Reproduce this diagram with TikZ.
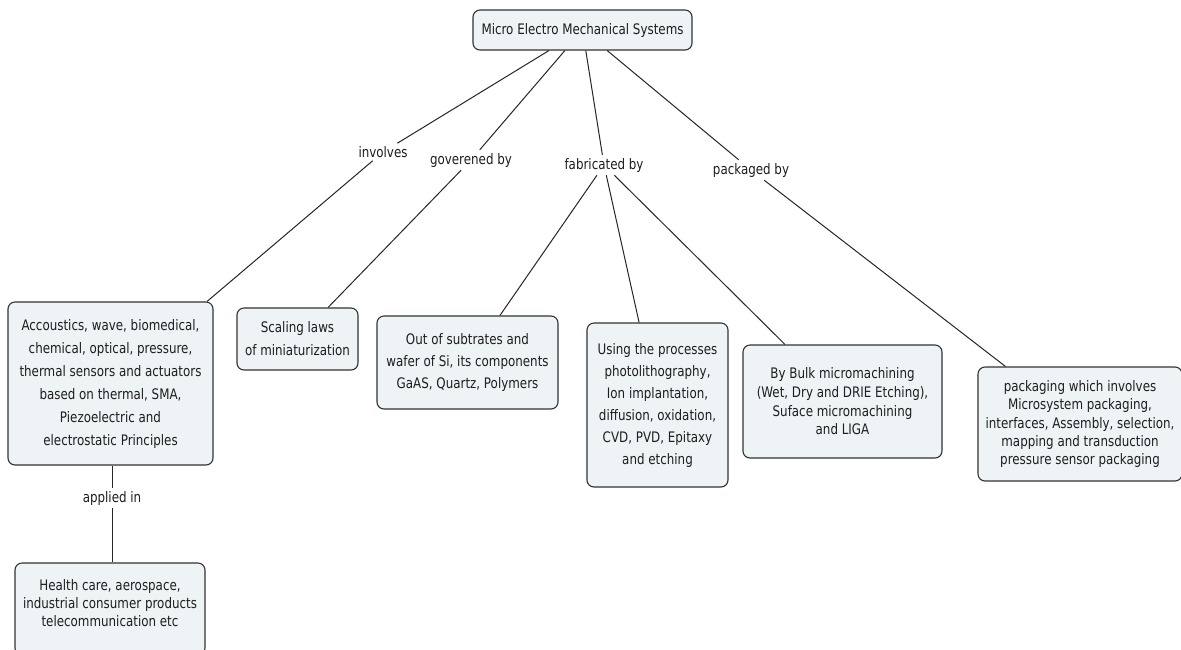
\documentclass[tikz,border=0pt]{standalone}
\usepackage{fontspec}
\newfontfamily\cmapfont[FakeStretch=0.82]{DejaVu Sans}
\definecolor{boxfill}{HTML}{EEF3F5}
\definecolor{boxline}{HTML}{333333}
\definecolor{txt}{HTML}{1E1E1E}
\tikzset{
  cbox/.style={draw=boxline, line width=1.1pt, fill=boxfill, rounded corners=7pt,
    align=center, text=txt, inner sep=2pt, font={\cmapfont\fontsize{14.5}{#1}\selectfont}},
  clabel/.style={fill=white, inner sep=3pt, text=txt, font={\cmapfont\fontsize{14.5}{16}\selectfont}},
  conn/.style={draw=black!85, line width=1pt}
}
\begin{document}
\begin{tikzpicture}[x=1pt,y=-1pt]
\useasboundingbox (0,0) rectangle (1181,649);
\fill[white] (0,0) rectangle (1181,649);
% concepts
\node[cbox=16, minimum width=219, minimum height=40] (root) at (582.5,30) {Micro Electro Mechanical Systems};
\node[cbox=23, minimum width=205, minimum height=163] (acc) at (110.5,383.5)
  {Accoustics, wave, biomedical,\\ chemical, optical, pressure,\\ thermal sensors and actuators\\ based on thermal, SMA,\\ Piezoelectric and\\ electrostatic Principles};
\node[cbox=23, minimum width=121, minimum height=62] (scal) at (297.5,339)
  {Scaling laws\\ of miniaturization};
\node[cbox=21.7, minimum width=181, minimum height=93] (subs) at (467.5,362.5)
  {Out of subtrates and\\ wafer of Si, its components\\ GaAS, Quartz, Polymers};
\node[cbox=22, minimum width=141, minimum height=164] (proc) at (657.5,405)
  {Using the processes\\ photolithography,\\ Ion implantation,\\ diffusion, oxidation,\\ CVD, PVD, Epitaxy\\ and etching};
\node[cbox=18.7, minimum width=199, minimum height=113] (bulk) at (842.5,401.5)
  {By Bulk micromachining\\ (Wet, Dry and DRIE Etching),\\ Suface micromachining\\ and LIGA};
\node[cbox=18.3, minimum width=204, minimum height=114] (pack) at (1080,424)
  {packaging which involves\\ Microsystem packaging,\\ interfaces, Assembly, selection,\\ mapping and transduction\\ pressure sensor packaging};
\node[cbox=18.3, minimum width=190, minimum height=92] (appl) at (110,609)
  {Health care, aerospace,\\ industrial consumer products\\ telecommunication etc\\[-6pt]\mbox{}};
% linking phrases
\node[clabel] (linv) at (383,152) {involves};
\node[clabel] (lgov) at (471,160) {goverened by};
\node[clabel] (lfab) at (604,165) {fabricated by};
\node[clabel] (lpak) at (751,170) {packaged by};
\node[clabel] (lapp) at (112,498) {applied in};
% connectors
\draw[conn] (root) -- (linv);
\draw[conn] (root) -- (lgov);
\draw[conn] (root) -- (lfab);
\draw[conn] (root) -- (lpak);
\draw[conn] (linv) -- (acc);
\draw[conn] (lgov) -- (scal);
\draw[conn] (lfab) -- (subs);
\draw[conn] (lfab) -- (proc);
\draw[conn] (lfab) -- (bulk);
\draw[conn] (lpak) -- (pack);
\draw[conn] (acc.south -| lapp) -- (lapp);
\draw[conn] (lapp) -- (appl.north -| lapp);
\end{tikzpicture}
\end{document}
